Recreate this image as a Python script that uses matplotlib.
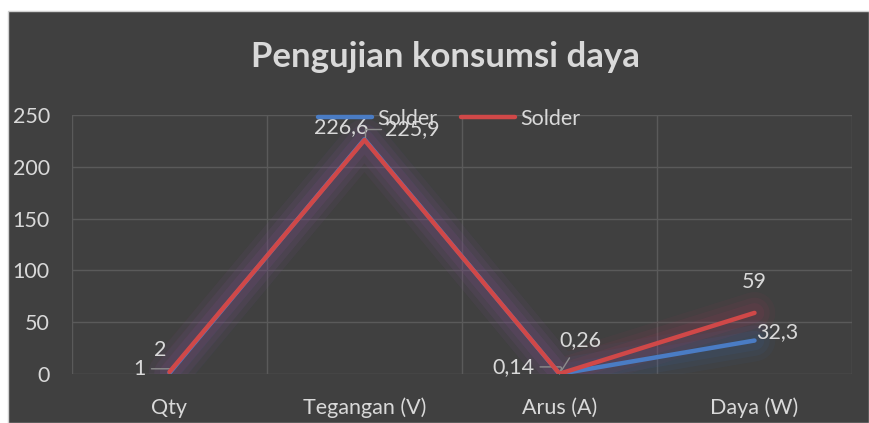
import matplotlib
matplotlib.use("Agg")
import matplotlib.pyplot as plt
from matplotlib.patches import Rectangle

categories = ["Qty", "Tegangan (V)", "Arus (A)", "Daya (W)"]
blue_vals = [1, 226.6, 0.14, 32.3]
red_vals = [2, 225.9, 0.26, 59]
blue_labels = ["1", "226,6", "0,14", "32,3"]
red_labels = ["2", "225,9", "0,26", "59"]
series_names = ["Solder", "Solder"]
yticks = [0, 50, 100, 150, 200, 250]

W, H = 869, 423
fig = plt.figure(figsize=(W / 100, H / 100), dpi=100)
fig.patch.set_facecolor("white")
bg = "#404040"
fig.patches.append(Rectangle((8 / W, 0), 1 - 8 / W, 1 - 11 / H, transform=fig.transFigure,
                             facecolor=bg, edgecolor="#d0d0d0", lw=1.0, zorder=-5))
plt.rcParams['font.family'] = ['Lato', 'DejaVu Sans']
txt = "#d9d9d9"
grid = "#5a5a5a"
fs = 15.5

ax = fig.add_axes([72 / W, 1 - 374 / H, 780 / W, (374 - 115) / H])
ax.set_facecolor(bg)
x = list(range(len(categories)))
ax.set_xlim(-0.5, len(categories) - 0.5)
ax.set_ylim(0, 250)
ax.set_yticks(yticks)
ax.set_xticks(x)
ax.set_xticklabels(categories)
ax.set_xticks([i + 0.5 for i in range(-1, len(categories))], minor=True)
ax.grid(True, which="major", axis="y", color=grid, lw=1)
ax.grid(True, which="minor", axis="x", color=grid, lw=1)
ax.tick_params(which="both", length=0, colors=txt, labelsize=fs)
ax.tick_params(axis="x", pad=17)
ax.tick_params(axis="y", pad=16)
for s in ax.spines.values():
    s.set_visible(False)
ax.set_axisbelow(True)

blue = "#4a7cc4"
red = "#d04848"
# glow
for lw, a in [(30, 0.06), (22, 0.08), (14, 0.10)]:
    ax.plot(x, blue_vals, color="#3a6ab0", lw=lw, alpha=a, solid_capstyle="round", zorder=2)
    ax.plot(x, red_vals, color="#b03a60", lw=lw, alpha=a, solid_capstyle="round", zorder=2)
ax.plot(x, blue_vals, color=blue, lw=3.2, solid_capstyle="round", zorder=3, label=series_names[0])
ax.plot(x, red_vals, color=red, lw=3.2, solid_capstyle="round", zorder=4, label=series_names[1])

lead = "#8c8c8c"
# blue labels
ax.annotate(blue_labels[0], (x[0], blue_vals[0]), xytext=(-17, 3), textcoords="offset points",
            ha="right", va="center", color=txt, fontsize=fs,
            arrowprops=dict(arrowstyle="-", color=lead, lw=1, shrinkA=2, shrinkB=0,
                            connectionstyle="angle,angleA=0,angleB=50,rad=2"))
ax.annotate(blue_labels[1], (x[1], blue_vals[1]), xytext=(-17, 9), textcoords="offset points",
            ha="center", va="center", color=txt, fontsize=fs)
ax.annotate(blue_labels[2], (x[2], blue_vals[2]), xytext=(-18, 5), textcoords="offset points",
            ha="right", va="center", color=txt, fontsize=fs,
            arrowprops=dict(arrowstyle="-", color=lead, lw=1, shrinkA=2, shrinkB=0,
                            connectionstyle="angle,angleA=0,angleB=70,rad=2"))
ax.annotate(blue_labels[3], (x[3], blue_vals[3]), xytext=(1.5, 6), textcoords="offset points",
            ha="left", va="center", color=txt, fontsize=fs)
# red labels
ax.annotate(red_labels[0], (x[0], red_vals[0]), xytext=(-7, 16), textcoords="offset points",
            ha="center", va="center", color=txt, fontsize=fs)
ax.annotate(red_labels[1], (x[1], red_vals[1]), xytext=(15, 8), textcoords="offset points",
            ha="left", va="center", color=txt, fontsize=fs,
            arrowprops=dict(arrowstyle="-", color=lead, lw=1, shrinkA=1, shrinkB=2,
                            connectionstyle="angle,angleA=0,angleB=90,rad=0"))
ax.annotate(red_labels[2], (x[2], red_vals[2]), xytext=(0, 24), textcoords="offset points",
            ha="left", va="center", color=txt, fontsize=fs,
            arrowprops=dict(arrowstyle="-", color=lead, lw=1, shrinkA=4, shrinkB=0))
ax.annotate(red_labels[3], (x[3], red_vals[3]), xytext=(0, 22), textcoords="offset points",
            ha="center", va="center", color=txt, fontsize=fs)

leg = fig.legend(*ax.get_legend_handles_labels(), loc="center left",
                 bbox_to_anchor=(318 / W, 1 - 119 / H), ncol=2, frameon=False,
                 fontsize=fs, labelcolor=txt, handlelength=2.5, columnspacing=1.1,
                 handletextpad=0.25, borderpad=0, borderaxespad=0)

fig.text(445 / W, 1 - 57 / H, "Pengujian konsumsi daya", ha="center", va="center",
         fontsize=25, fontweight="bold", color=txt)

fig.savefig("out.png", dpi=100, facecolor=fig.get_facecolor())
